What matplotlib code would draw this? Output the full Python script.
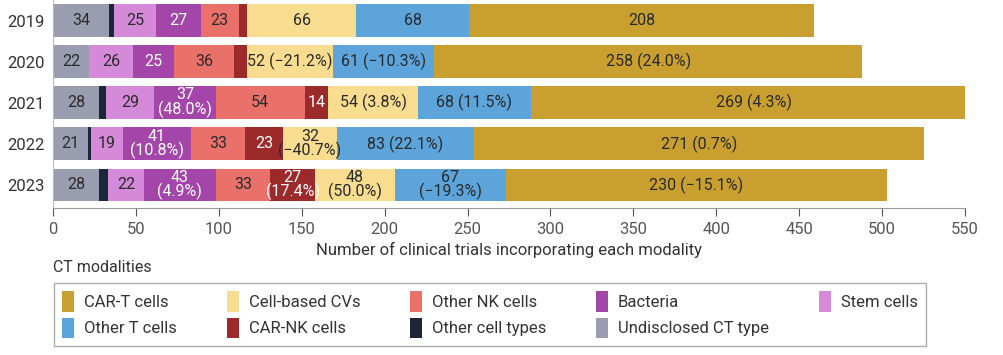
import matplotlib.pyplot as plt
import numpy as np

plt.rcParams['font.family'] = ['Roboto', 'DejaVu Sans']

years = ["2019", "2020", "2021", "2022", "2023"]

# segments from left to right
undisclosed = [34, 22, 28, 21, 28]
other_types = [3, 0, 4, 2, 5]
stem = [25, 26, 29, 19, 22]
bacteria = [27, 25, 37, 41, 43]
other_nk = [23, 36, 54, 33, 33]
car_nk = [5, 8, 14, 23, 27]
cvs = [66, 52, 54, 32, 48]
other_t = [68, 61, 68, 83, 67]
car_t = [208, 258, 269, 271, 230]

lab_undisclosed = ["34", "22", "28", "21", "28"]
lab_other_types = ["", "", "", "", ""]
lab_stem = ["25", "26", "29", "19", "22"]
lab_bacteria = ["27", "25", "37\n(48.0%)", "41\n(10.8%)", "43\n(4.9%)"]
lab_other_nk = ["23", "36", "54", "33", "33"]
lab_car_nk = ["", "", "14", "23", "27\n(17.4%)"]
lab_cvs = ["66", "52 (\u221221.2%)", "54 (3.8%)", "32\n(\u221240.7%)", "48\n(50.0%)"]
lab_other_t = ["68", "61 (\u221210.3%)", "68 (11.5%)", "83 (22.1%)", "67\n(\u221219.3%)"]
lab_car_t = ["208", "258 (24.0%)", "269 (4.3%)", "271 (0.7%)", "230 (\u221215.1%)"]

series = [
    ("Undisclosed CT type", undisclosed, lab_undisclosed, "#9a9db0", "#2a2a2a"),
    ("Other cell types", other_types, lab_other_types, "#1b2638", "white"),
    ("Stem cells", stem, lab_stem, "#d48ad9", "#2a2a2a"),
    ("Bacteria", bacteria, lab_bacteria, "#a445a9", "white"),
    ("Other NK cells", other_nk, lab_other_nk, "#e9716a", "#2a2a2a"),
    ("CAR-NK cells", car_nk, lab_car_nk, "#9d2a2b", "white"),
    ("Cell-based CVs", cvs, lab_cvs, "#f8dc90", "#2a2a2a"),
    ("Other T cells", other_t, lab_other_t, "#5ca4da", "#2a2a2a"),
    ("CAR-T cells", car_t, lab_car_t, "#c9a02f", "#2a2a2a"),
]

fig = plt.figure(figsize=(10.04, 3.55), dpi=100)
ax = fig.add_axes([53 / 1004, 1 - 208 / 355, 912 / 1004, 208 / 355])

y = np.arange(len(years))
left = np.zeros(len(years))
handles = {}
for name, vals, labs, col, tcol in series:
    vals = np.array(vals, dtype=float)
    bars = ax.barh(y, vals, left=left, height=0.8, color=col, label=name)
    handles[name] = bars
    for i, lab in enumerate(labs):
        if lab:
            ax.text(left[i] + vals[i] / 2, y[i], lab, ha="center", va="center",
                    fontsize=11.5, color=tcol, linespacing=0.88)
    left += vals

ax.set_xlim(0, 550)
ax.set_ylim(4.56, -0.5)
ax.set_yticks(y)
ax.set_yticklabels(years, fontsize=12, color="#333333")
ax.tick_params(axis="y", length=0, pad=6)
ax.set_xticks(np.arange(0, 551, 50))
ax.tick_params(axis="x", labelsize=12, colors="#555555", length=6, pad=4)
for s in ["top", "right"]:
    ax.spines[s].set_visible(False)
ax.spines["left"].set_color("#bbbbbb")
ax.spines["bottom"].set_color("#999999")
ax.set_xlabel("Number of clinical trials incorporating each modality",
              fontsize=12, color="#333333", labelpad=4)

fig.text(53 / 1004, 1 - 268 / 355, "CT modalities", fontsize=11.5,
         color="#333333", va="center")

order = ["CAR-T cells", "Other T cells", "Cell-based CVs", "CAR-NK cells",
         "Other NK cells", "Other cell types", "Bacteria", "Undisclosed CT type",
         "Stem cells"]
leg = fig.legend([handles[n] for n in order], order, ncol=5,
                 loc="upper left", bbox_to_anchor=(54 / 1004, 1 - 283 / 355),
                 borderaxespad=0,
                 fontsize=12, frameon=True, fancybox=False, edgecolor="#999999",
                 handlelength=0.7, handleheight=1.5, handletextpad=0.6,
                 columnspacing=3.0, labelspacing=0.35, borderpad=0.5)
leg.get_frame().set_linewidth(1)
for t in leg.get_texts():
    t.set_color("#333333")

fig.savefig("out.png", dpi=100)
